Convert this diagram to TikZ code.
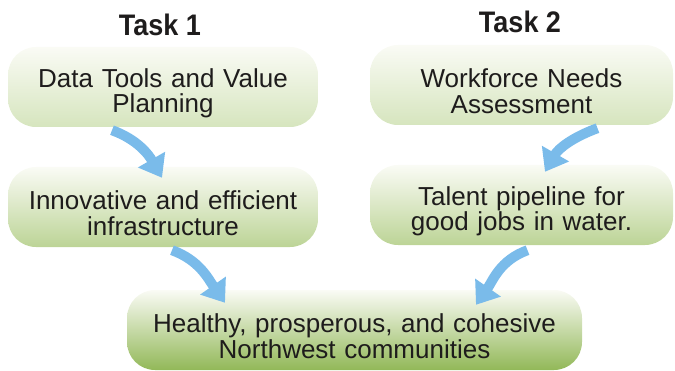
\documentclass[tikz,border=0pt]{standalone}
\usepackage{fontspec}
\setmainfont{Liberation Sans}
\usetikzlibrary{arrows.meta,positioning}
\usetikzlibrary{calc}

\definecolor{boxtop}{RGB}{250,251,245}
\definecolor{lightgreen}{RGB}{214,229,190}
\definecolor{midgreen}{RGB}{188,212,150}
\definecolor{deepgreen}{RGB}{146,184,88}
\definecolor{arrowblue}{RGB}{122,187,234}
\definecolor{txtgray}{RGB}{30,28,28}

\begin{document}
\begin{tikzpicture}[
      x=1pt,y=1pt,
      mybox/.style={
         rectangle,
         rounded corners=28pt,
         top color=boxtop,
         inner sep=0pt,
         minimum height=80pt,
         text width=#1,
         minimum width=#1,
         text height=31pt,
         align=center,
         text=txtgray,
         font=\fontsize{26}{25.5}\selectfont},
      mytitle/.style={
         text=txtgray,
         font=\bfseries\fontsize{27}{30}\selectfont},
      myarrow/.style={
         draw=arrowblue,
         line width=10pt,
         -{Triangle[width=30pt,length=21pt]}}
      ]
      \useasboundingbox (0,0) rectangle (675,370);

      \node[mytitle,yscale=1.1] (t1) at (160,345) {Task 1};
      \node[mytitle,yscale=1.1] (t2) at (520,348) {Task 2};

      \node[mybox=310pt,bottom color=lightgreen] (data) at (163,283)
         {Data Tools and Value\\Planning};
      \node[mybox=303pt,bottom color=lightgreen] (work) at (521.5,285)
         {Workforce Needs\\Assessment};
      \node[mybox=310pt,bottom color=midgreen] (infra) at (163,163)
         {Innovative and efficient\\infrastructure};
      \node[mybox=303pt,bottom color=midgreen] (talent) at (521.5,165)
         {Talent pipeline for\\good jobs in water.};
      \node[mybox=455pt,bottom color=deepgreen] (comm) at (354.5,40)
         {Healthy, prosperous, and cohesive\\Northwest communities};

      % arrow tails sit just under the upper boxes
      \coordinate (a1) at ($(data.south)+(-51,-3)$);
      \coordinate (a2) at ($(work.south)+(76,-3)$);
      \coordinate (a3) at ($(infra.south)+(9,-3)$);
      \coordinate (a4) at ($(talent.south)+(6,-5)$);

      \draw[myarrow] (a1) to[out=-20,in=120] ($(infra.north)+(-1,-11)$);
      \draw[myarrow] (a2) to[out=200,in=60] ($(talent.north)+(23.5,-7)$);
      \draw[myarrow] (a3) to[out=-20,in=125] ($(comm.north)+(-129.5,-13)$);
      \draw[myarrow] (a4) to[out=200,in=55] ($(comm.north)+(121.5,-15)$);
\end{tikzpicture}
\end{document}
